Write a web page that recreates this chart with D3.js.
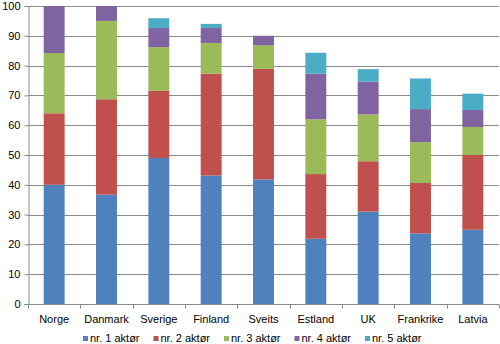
<!DOCTYPE html>
<html>
<head>
<meta charset="utf-8">
<script src="https://cdn.jsdelivr.net/npm/d3@7"></script>
<style>
  body { margin: 0; background: #fff; }
  svg text { font-family: "Liberation Sans", Arial, sans-serif; font-size: 11px; fill: #000; }
</style>
</head>
<body>
<svg id="chart"></svg>
<script>
// countries along the x axis
var countries = ["Norge", "Danmark", "Sverige", "Finland", "Sveits", "Estland", "UK", "Frankrike", "Latvia"];

// market share per actor rank (percent)
var aktor1 = [40.0, 36.7, 49.0, 43.1, 41.8, 21.9, 31.0, 23.7, 24.9];
var aktor2 = [24.0, 32.0, 22.5, 34.2, 37.1, 21.7, 16.9, 16.9, 25.1];
var aktor3 = [20.2, 26.3, 14.7, 10.3, 7.9, 18.4, 15.7, 13.7, 9.4];
var aktor4 = [15.8, 5.0, 6.4, 5.0, 3.2, 15.3, 11.0, 11.1, 5.7];
var aktor5 = [0, 0, 3.3, 1.4, 0, 7.0, 4.2, 10.3, 5.5];

var seriesNames = ["nr. 1 aktør", "nr. 2 aktør", "nr. 3 aktør", "nr. 4 aktør", "nr. 5 aktør"];
var yTicks = [0, 10, 20, 30, 40, 50, 60, 70, 80, 90, 100];

var colors = ["#4F81BD", "#C0504D", "#9BBB59", "#8064A2", "#4BACC6"];

var screen = {width: 500, height: 344};
var margins = {top: 6, bottom: 40, left: 28, right: 1};
var graph = {
    width: screen.width - margins.left - margins.right,
    height: screen.height - margins.top - margins.bottom
};

// build rows for d3.stack
var allSeries = [aktor1, aktor2, aktor3, aktor4, aktor5];
var rows = countries.map(function(c, i) {
    var row = {land: c};
    seriesNames.forEach(function(s, j) { row[s] = allSeries[j][i]; });
    return row;
});

var stacked = d3.stack().keys(seriesNames)(rows);

var xScale = d3.scaleBand()
    .domain(countries)
    .range([0, graph.width])
    .paddingInner(0.6)
    .paddingOuter(0.3);

var yScale = d3.scaleLinear()
    .domain([0, 100])
    .range([graph.height, 0]);

var svg = d3.select("#chart")
    .attr("width", screen.width)
    .attr("height", screen.height);

var g = svg.append("g")
    .attr("transform", "translate(" + margins.left + "," + margins.top + ")");

// horizontal gridlines
g.append("g")
    .selectAll("line")
    .data(yTicks.slice(1))
    .enter()
    .append("line")
    .attr("x1", 0)
    .attr("x2", graph.width)
    .attr("y1", function(d) { return Math.round(yScale(d)) + 0.5; })
    .attr("y2", function(d) { return Math.round(yScale(d)) + 0.5; })
    .attr("stroke", "#8a8a8a")
    .attr("stroke-width", 1);

// stacked bars
var groups = g.selectAll("g.serie")
    .data(stacked)
    .enter()
    .append("g")
    .classed("serie", true)
    .attr("fill", function(d, i) { return colors[i]; });

groups.selectAll("rect")
    .data(function(d) { return d; })
    .enter()
    .append("rect")
    .attr("x", function(d) { return xScale(d.data.land); })
    .attr("y", function(d) { return yScale(d[1]); })
    .attr("width", xScale.bandwidth())
    .attr("height", function(d) { return yScale(d[0]) - yScale(d[1]); });

// y axis
var yAxis = d3.axisLeft(yScale)
    .tickValues(yTicks)
    .tickSize(4)
    .tickPadding(4);

var yG = g.append("g")
    .attr("transform", "translate(0.5,0)")
    .call(yAxis);
yG.select(".domain").attr("stroke", "#8a8a8a");
yG.selectAll(".tick line").attr("stroke", "#8a8a8a");
yG.selectAll(".tick text").style("font-size", "11px");

// x axis line with ticks between categories
var xG = g.append("g")
    .attr("transform", "translate(0," + (Math.round(graph.height) + 0.5) + ")");

xG.append("line")
    .attr("x1", -4)
    .attr("x2", graph.width)
    .attr("stroke", "#8a8a8a");

xG.selectAll("line.tick")
    .data(d3.range(countries.length + 1))
    .enter()
    .append("line")
    .classed("tick", true)
    .attr("x1", function(i) { return Math.round(i * graph.width / countries.length) + 0.5; })
    .attr("x2", function(i) { return Math.round(i * graph.width / countries.length) + 0.5; })
    .attr("y1", 0)
    .attr("y2", 4)
    .attr("stroke", "#8a8a8a");

xG.selectAll("text")
    .data(countries)
    .enter()
    .append("text")
    .attr("x", function(d) { return xScale(d) + xScale.bandwidth() / 2; })
    .attr("y", 18)
    .attr("text-anchor", "middle")
    .text(function(d) { return d; });

// legend
var legend = svg.append("g")
    .attr("transform", "translate(83,334)");

var entries = legend.selectAll("g")
    .data(seriesNames)
    .enter()
    .append("g")
    .attr("transform", function(d, i) { return "translate(" + (i * 70.5) + ",0)"; });

entries.append("rect")
    .attr("width", 5)
    .attr("height", 5)
    .attr("y", 2)
    .attr("fill", function(d, i) { return colors[i]; });

entries.append("text")
    .attr("x", 7)
    .attr("y", 8)
    .text(function(d) { return d; });
</script>
</body>
</html>
